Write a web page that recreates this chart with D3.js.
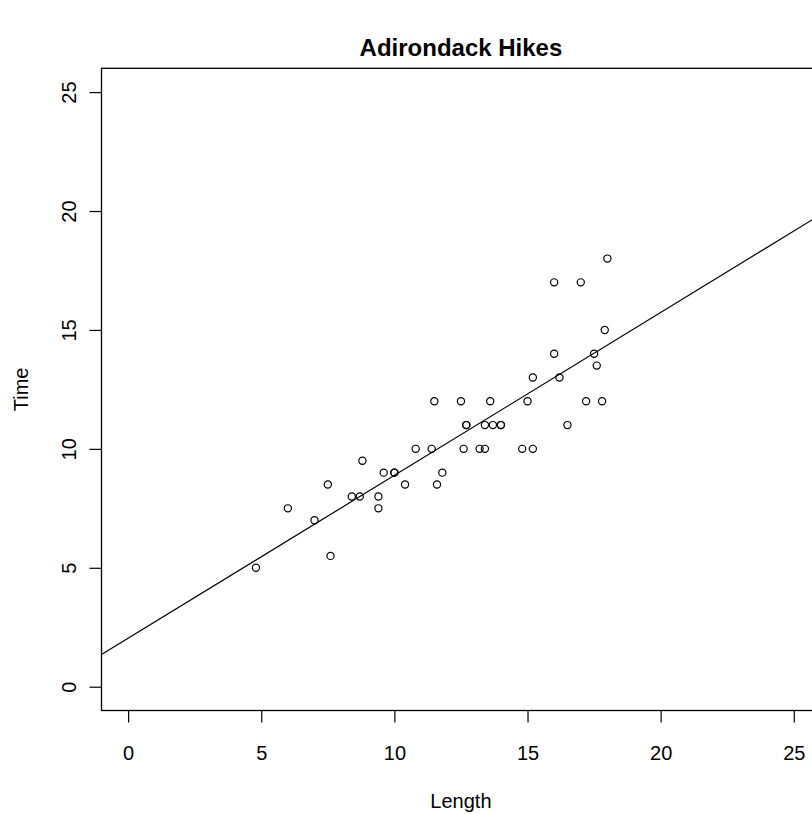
<!DOCTYPE html>
<html>
<head>
<meta charset="utf-8">
<script src="https://cdn.jsdelivr.net/npm/d3@7/dist/d3.min.js"></script>
<style>
  html, body { margin: 0; padding: 0; background: #fff; }
  svg { display: block; }
  text { font-family: "Liberation Sans", Arial, Helvetica, sans-serif; fill: #000; }
</style>
</head>
<body>
<svg id="chart" width="812" height="814"></svg>
<script>
// ---- data ----
const lengthMiles = [4.8, 6.0, 7.0, 7.5, 7.6, 8.4, 8.7, 8.8, 9.4, 9.4, 9.6, 10.0, 10.0, 10.4, 10.8,
  11.4, 11.5, 11.6, 11.8, 12.5, 12.6, 12.7, 12.7, 13.2, 13.4, 13.4, 13.6, 13.7, 14.0, 14.0,
  14.8, 15.0, 15.2, 15.2, 16.0, 16.0, 16.2, 16.5, 17.0, 17.2, 17.5, 17.6, 17.8, 17.9, 18.0];
const timeHours = [5, 7.5, 7, 8.5, 5.5, 8, 8, 9.5, 8, 7.5, 9, 9, 9, 8.5, 10,
  10, 12, 8.5, 9, 12, 10, 11, 11, 10, 10, 11, 12, 11, 11, 11,
  10, 12, 10, 13, 17, 14, 13, 11, 17, 12, 14, 13.5, 12, 15, 18];
const xTicks = [0, 5, 10, 15, 20, 25];
const yTicks = [0, 5, 10, 15, 20, 25];
const xDomain = [-1, 26];
const yDomain = [-1, 26];
const titleText = "Adirondack Hikes";
const xLabel = "Length";
const yLabel = "Time";

// ---- layout ----
const plotLeft = 101.5, plotRight = 820.4, plotTop = 68.3, plotBottom = 710.5;
const svg = d3.select("#chart");

const x = d3.scaleLinear().domain(xDomain).range([plotLeft, plotRight]);
const y = d3.scaleLinear().domain(yDomain).range([plotBottom, plotTop]);

// least-squares fit (abline(lm(Time ~ Length)))
const mx = d3.mean(lengthMiles), my = d3.mean(timeHours);
let sxy = 0, sxx = 0;
lengthMiles.forEach((v, i) => { sxy += (v - mx) * (timeHours[i] - my); sxx += (v - mx) * (v - mx); });
const slope = sxy / sxx, intercept = my - slope * mx;

svg.append("defs").append("clipPath").attr("id", "plotclip")
  .append("rect").attr("x", plotLeft).attr("y", plotTop)
  .attr("width", plotRight - plotLeft).attr("height", plotBottom - plotTop);

// regression line
svg.append("line")
  .attr("clip-path", "url(#plotclip)")
  .attr("x1", x(xDomain[0])).attr("y1", y(intercept + slope * xDomain[0]))
  .attr("x2", x(xDomain[1])).attr("y2", y(intercept + slope * xDomain[1]))
  .attr("stroke", "#000").attr("stroke-width", 1.2);

// points
svg.append("g").selectAll("circle")
  .data(lengthMiles.map((v, i) => [v, timeHours[i]]))
  .join("circle")
  .attr("cx", d => x(d[0])).attr("cy", d => y(d[1])).attr("r", 3.6)
  .attr("fill", "none").attr("stroke", "#000").attr("stroke-width", 1.2);

// box
svg.append("rect")
  .attr("x", plotLeft).attr("y", plotTop)
  .attr("width", plotRight - plotLeft).attr("height", plotBottom - plotTop)
  .attr("fill", "none").attr("stroke", "#000").attr("stroke-width", 1.3);

const fontFam = '"Liberation Sans", Arial, Helvetica, sans-serif';

// x axis
const gx = svg.append("g").attr("transform", `translate(0,${plotBottom})`)
  .call(d3.axisBottom(x).tickValues(xTicks).tickSize(12).tickSizeOuter(0).tickPadding(23)
        .tickFormat(d3.format("d")));
gx.select(".domain").remove();
gx.selectAll(".tick line").attr("stroke", "#000").attr("stroke-width", 1.2);
gx.selectAll(".tick text").attr("font-size", 20)
  .style("font-family", fontFam).attr("fill", "#000");

// y axis
const gy = svg.append("g").attr("transform", `translate(${plotLeft},0)`)
  .call(d3.axisLeft(y).tickValues(yTicks).tickSize(12).tickSizeOuter(0)
        .tickFormat(d3.format("d")));
gy.select(".domain").remove();
gy.selectAll(".tick line").attr("stroke", "#000").attr("stroke-width", 1.2);
gy.selectAll(".tick text")
  .attr("x", null).attr("dy", null)
  .attr("transform", "translate(-26,0) rotate(-90)")
  .attr("text-anchor", "middle")
  .attr("font-size", 20)
  .style("font-family", fontFam).attr("fill", "#000");

// title and axis labels
svg.append("text").attr("x", (plotLeft + plotRight) / 2).attr("y", 56)
  .attr("text-anchor", "middle").attr("font-size", 24).attr("font-weight", "bold")
  .text(titleText);
svg.append("text").attr("x", (plotLeft + plotRight) / 2).attr("y", 808)
  .attr("text-anchor", "middle").attr("font-size", 20).text(xLabel);
svg.append("text").attr("transform", `translate(27.5,${(plotTop + plotBottom) / 2}) rotate(-90)`)
  .attr("text-anchor", "middle").attr("font-size", 20).text(yLabel);
</script>
</body>
</html>
